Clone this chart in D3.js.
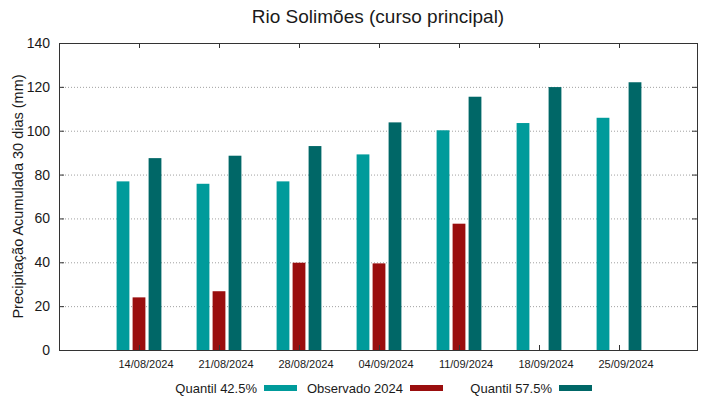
<!DOCTYPE html>
<html>
<head>
<meta charset="utf-8">
<script src="https://cdn.jsdelivr.net/npm/d3@7"></script>
<style>
  body { margin: 0; background: #fff; }
  text { font-family: "Liberation Sans", Arial, sans-serif; fill: #1a1a1a; }
</style>
</head>
<body>
<div id="plot"></div>
<script>
// Chart data
var dates = ["14/08/2024", "21/08/2024", "28/08/2024", "04/09/2024", "11/09/2024", "18/09/2024", "25/09/2024"];
var q425 = [76.9, 75.8, 76.9, 89.2, 100.2, 103.5, 105.9];
var observado = [24.0, 26.8, 39.8, 39.5, 57.6, null, null];
var q575 = [87.5, 88.6, 93.0, 103.8, 115.5, 119.9, 122.1];
var yTicks = [0, 20, 40, 60, 80, 100, 120, 140];

var seriesNames = ["Quantil 42.5%", "Observado 2024", "Quantil 57.5%"];
var seriesColors = ["#009b9b", "#9a0e0e", "#006767"];
var series = [q425, observado, q575];

var svgWidth = 719;
var svgHeight = 399;

// plot area borders
var margin = { top: 43, right: 22, bottom: 49, left: 59 };
var width = svgWidth - margin.left - margin.right;
var height = svgHeight - margin.top - margin.bottom;

var svg = d3.select("#plot")
  .append("svg")
  .attr("width", svgWidth)
  .attr("height", svgHeight);

var chartGroup = svg.append("g")
  .attr("transform", `translate(${margin.left}, ${margin.top})`);

// x runs over group index, like a gnuplot histogram
var xScale = d3.scaleLinear()
  .domain([-1, 6.975])
  .range([0, width]);

var yScale = d3.scaleLinear()
  .domain([0, 140])
  .range([height, 0]);

var slot = 0.2;      // distance between bars in a group
var barW = 0.16;     // bar width in x units

// dotted grid
chartGroup.append("g")
  .selectAll("line")
  .data(yTicks.filter(d => d > 0 && d < 140))
  .enter()
  .append("line")
  .attr("x1", 0)
  .attr("x2", width)
  .attr("y1", d => yScale(d) + 0.5)
  .attr("y2", d => yScale(d) + 0.5)
  .attr("stroke", "#a0a0a0")
  .attr("stroke-width", 1)
  .attr("stroke-dasharray", "1,2");

// bars
series.forEach(function(vals, s) {
  chartGroup.append("g")
    .selectAll("rect")
    .data(vals.map((v, i) => ({ i: i, v: v })).filter(d => d.v !== null))
    .enter()
    .append("rect")
    .attr("x", d => xScale(d.i + (s - 1) * slot - barW / 2))
    .attr("width", xScale(barW) - xScale(0))
    .attr("y", d => yScale(d.v))
    .attr("height", d => yScale(0) - yScale(d.v))
    .attr("fill", seriesColors[s]);
});

// left axis, ticks pointing inward
var leftAxis = d3.axisLeft(yScale).tickValues(yTicks).tickSize(-5).tickPadding(9);
var gy = chartGroup.append("g").call(leftAxis);
gy.select(".domain").remove();
gy.selectAll("line").attr("stroke", "#333");
gy.selectAll("text")
  .style("font-size", "14px")
  .attr("font-family", "Liberation Sans, Arial, sans-serif");
gy.selectAll(".tick").filter(d => d === 0 || d === 140).select("line").remove();

// mirrored ticks on right side
var rightAxis = d3.axisRight(yScale).tickValues(yTicks.filter(d => d > 0 && d < 140)).tickSize(-5).tickFormat("");
var gr = chartGroup.append("g")
  .attr("transform", `translate(${width}, 0)`)
  .call(rightAxis);
gr.select(".domain").remove();
gr.selectAll("line").attr("stroke", "#333");

// bottom axis
var bottomAxis = d3.axisBottom(xScale)
  .tickValues(d3.range(dates.length))
  .tickSize(-5)
  .tickPadding(10)
  .tickFormat(i => dates[i]);
var gx = chartGroup.append("g")
  .attr("transform", `translate(0, ${height})`)
  .call(bottomAxis);
gx.select(".domain").remove();
gx.selectAll("line").attr("stroke", "#333");
gx.selectAll("text")
  .attr("dx", 6.5)
  .style("font-size", "11px");

// top mirrored ticks
var topAxis = d3.axisTop(xScale).tickValues(d3.range(dates.length)).tickSize(-5).tickFormat("");
var gt = chartGroup.append("g").call(topAxis);
gt.select(".domain").remove();
gt.selectAll("line").attr("stroke", "#333");

// border
chartGroup.append("rect")
  .attr("x", 0.5)
  .attr("y", 0.5)
  .attr("width", width)
  .attr("height", height)
  .attr("fill", "none")
  .attr("stroke", "#333")
  .attr("stroke-width", 1);

// title
svg.append("text")
  .attr("x", margin.left + width / 2)
  .attr("y", 23)
  .attr("text-anchor", "middle")
  .style("font-size", "19px")
  .text("Rio Solimões (curso principal)");

// y label
svg.append("text")
  .attr("transform", `translate(23, ${margin.top + height / 2}) rotate(-90)`)
  .attr("text-anchor", "middle")
  .style("font-size", "14.5px")
  .text("Precipitação Acumulada 30 dias (mm)");

// legend
var legendX = [257, 403, 552];
var legend = svg.append("g");
seriesNames.forEach(function(name, s) {
  legend.append("text")
    .attr("x", legendX[s])
    .attr("y", 393)
    .attr("text-anchor", "end")
    .style("font-size", "13px")
    .text(name);
  legend.append("rect")
    .attr("x", legendX[s] + 7)
    .attr("y", 385)
    .attr("width", 33)
    .attr("height", 6)
    .attr("fill", seriesColors[s]);
});
</script>
</body>
</html>
